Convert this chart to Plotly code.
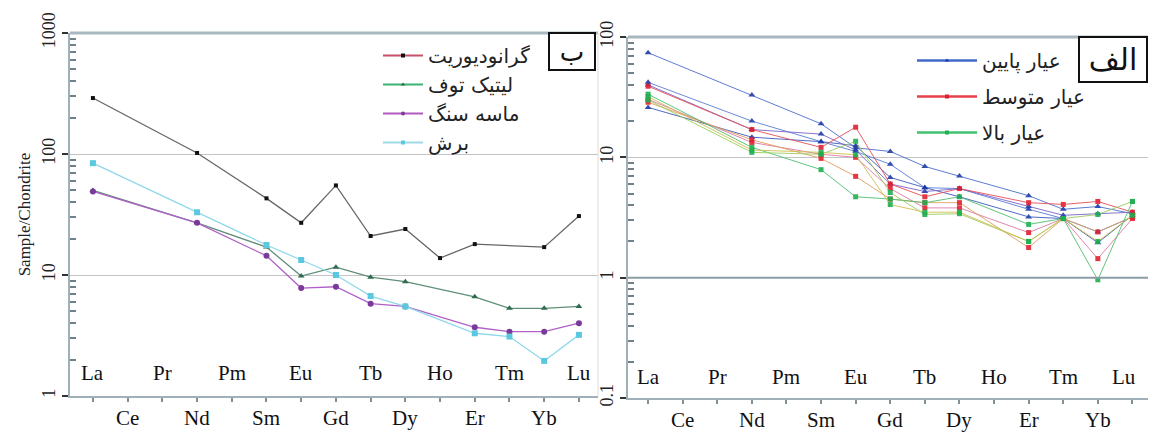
import plotly.graph_objects as go

W, H = 1149, 432

# ---------------- data ----------------
elements = ["La", "Ce", "Pr", "Nd", "Pm", "Sm", "Eu", "Gd", "Tb", "Dy", "Ho", "Er", "Tm", "Yb", "Lu"]
N = None

# left panel (ب)
granodiorite = [290, N, N, 102, N, 43, 27, 55, 21, 24, 13.8, 18, N, 17, 30.7]
lithic_tuff  = [50, N, N, 27, N, 17, 9.8, 11.6, 9.6, 8.8, N, 6.6, 5.3, 5.3, 5.5]
sandstone    = [49, N, N, 27, N, 14.4, 7.8, 8.0, 5.8, 5.5, N, 3.7, 3.4, 3.4, 4.0]
breccia      = [84, N, N, 33, N, 17.7, 13.3, 10.0, 6.7, 5.5, N, 3.3, 3.1, 1.95, 3.2]

left_names = ["گرانودیوریت", "لیتیک توف", "ماسه سنگ", "برش"]

# right panel (الف)
low_grade = [
    [74, N, N, 33, N, 19, 12.0, 11.2, 8.4, 7.0, N, 4.8, 3.7, 3.9, 3.4],
    [42, N, N, 20, N, 13.5, 11.2, 8.75, 5.6, 5.5, N, 3.7, 3.1, 2.4, 3.2],
    [26, N, N, 14.7, N, 13.5, 12.5, 6.8, 5.6, 4.7, N, 3.2, 3.1, 1.95, 3.3],
    [40, N, N, 17, N, 15.6, 11.5, 6.0, 5.2, 5.5, N, 3.9, 3.3, 3.4, 3.5],
]
mid_grade = [
    [39, N, N, 17, N, 12.1, 17.8, 6.0, 4.7, 5.5, N, 4.2, 4.06, 4.3, 3.5],
    [30.4, N, N, 13.3, N, 10.6, 10.0, 5.5, 3.8, 3.8, N, 2.37, 3.1, 1.44, 3.1],
    [28.7, N, N, 14, N, 9.8, 6.95, 4.5, 4.2, 4.2, N, 1.78, 3.1, 2.4, 3.2],
]
high_grade = [
    [33.5, N, N, 12.1, N, 7.9, 4.7, 4.5, 4.2, 4.7, N, 2.77, 3.1, 0.96, 4.3],
    [30, N, N, 11, N, 10.6, 13.6, 5.1, 3.35, 3.4, N, 2.0, 3.1, 3.35, 4.3],
    [32, N, N, 11.5, N, 11, 10.5, 4.05, 3.5, 3.5, N, 2.0, 3.1, 2.0, 3.3],
]
right_names = ["عیار پایین", "عیار متوسط", "عیار بالا"]

# ---------------- layout helpers ----------------
def px_x(p):
    return p / W

def px_y(p):
    return 1 - p / H

idx = list(range(len(elements)))
fig = go.Figure()

# left traces
left_styles = [
    (granodiorite, "#666666", "#111111", "square", 4, "#c8506a"),
    (lithic_tuff, "#5f8f78", "#2f6b4f", "triangle-up", 6, "#3cb371"),
    (sandstone, "#b060c8", "#7a3a9a", "circle", 6, "#b05cc0"),
    (breccia, "#8fd8ea", "#5cc8e0", "square", 6, "#9fd9e8"),
]
for k, ((vals, lc, mc, sym, ms, legc), name) in enumerate(zip(left_styles, left_names)):
    fig.add_trace(go.Scatter(
        x=idx, y=vals, mode="lines+markers", connectgaps=True,
        line=dict(color=lc, width=1.3), marker=dict(color=mc, symbol=sym, size=ms),
        xaxis="x", yaxis="y", showlegend=False, hoverinfo="skip"))
    fig.add_trace(go.Scatter(
        x=[None], y=[None], mode="lines+markers", name=name, legendgroup="L%d" % k,
        line=dict(color=legc, width=2), marker=dict(color=mc, symbol=sym, size=4),
        xaxis="x", yaxis="y", legend="legend"))

# right traces
groups = [
    (low_grade, ["#4a6fd0", "#5a7fd8", "#3d5cc0", "#7a66c8"], "#1f3aa8", "triangle-up", 6, "#4169c8"),
    (mid_grade, ["#e8505a", "#e07aa8", "#e0a060"], "#e02030", "square", 5, "#e8404a"),
    (high_grade, ["#50c070", "#9ccf60", "#d0c050"], "#20b050", "square", 5, "#40c070"),
]
for k, ((samples, lcs, mc, sym, ms, legc), name) in enumerate(zip(groups, right_names)):
    for s, lc in zip(samples, lcs):
        fig.add_trace(go.Scatter(
            x=idx, y=s, mode="lines+markers", connectgaps=True,
            line=dict(color=lc, width=1), marker=dict(color=mc, symbol=sym, size=ms),
            xaxis="x2", yaxis="y2", showlegend=False, hoverinfo="skip", opacity=0.9))
    fig.add_trace(go.Scatter(
        x=[None], y=[None], mode="lines+markers", name=name, legendgroup="R%d" % k,
        line=dict(color=legc, width=2.5), marker=dict(color=mc, symbol=sym, size=4),
        xaxis="x2", yaxis="y2", legend="legend2"))

axis_col = "#9fb0b8"
serif = "Liberation Serif"

def minor_vals(k0, k1):
    return [m * 10 ** k for k in range(k0, k1) for m in range(2, 10)]

xcommon = dict(tickmode="array", tickvals=idx, showticklabels=False, ticks="outside",
               ticklen=4, tickwidth=1.5, tickcolor="#7f9099", showline=True, linecolor=axis_col,
               linewidth=2, showgrid=False, zeroline=False, automargin=False)
ycommon = dict(type="log", showgrid=True, gridcolor="#c4c4c4", gridwidth=1.2,
               tickmode="linear", tick0=0, dtick=1, exponentformat="none",
               tickangle=-90, tickfont=dict(family=serif, size=18, color="#222"),
               showline=True, linecolor=axis_col, linewidth=2, ticks="outside",
               ticklen=6, tickwidth=1.5, tickcolor="#333", zeroline=False, automargin=False)
minorcommon = dict(type="log", tickmode="array", showticklabels=False, ticks="inside",
                   ticklen=6, tickwidth=1.5, tickcolor="#6f8088", showgrid=False,
                   showline=False, zeroline=False, automargin=False, side="left")

fig.update_layout(
    width=W, height=H, margin=dict(l=0, r=0, t=0, b=0, autoexpand=False),
    paper_bgcolor="white", plot_bgcolor="white",
    xaxis=dict(domain=[px_x(70), px_x(598)], range=[-0.66, 14.55], anchor="y", **xcommon),
    xaxis2=dict(domain=[px_x(628), px_x(1148)], range=[-0.58, 14.45], anchor="y2", **xcommon),
    yaxis=dict(domain=[px_y(396), px_y(33)], range=[0, 3], anchor="x",
               title=dict(text="Sample/Chondrite", font=dict(family=serif, size=17, color="#222"),
                          standoff=4),
               **ycommon),
    yaxis2=dict(domain=[px_y(398), px_y(37)], range=[-1, 2], anchor="x2", **ycommon),
    yaxis3=dict(overlaying="y", anchor="x", range=[0, 3], tickvals=minor_vals(0, 3), **minorcommon),
    yaxis4=dict(overlaying="y2", anchor="x2", range=[-1, 2], tickvals=minor_vals(-1, 2), **minorcommon),
    legend=dict(x=px_x(378), y=px_y(36), xanchor="left", yanchor="top",
                font=dict(family="DejaVu Sans", size=20, color="#222"),
                bgcolor="rgba(0,0,0,0)", tracegroupgap=0, itemwidth=40),
    legend2=dict(x=px_x(912), y=px_y(41), xanchor="left", yanchor="top",
                 font=dict(family="DejaVu Sans", size=20, color="#222"),
                 bgcolor="rgba(0,0,0,0)", tracegroupgap=7, itemwidth=60),
)

# anchor traces (one real point each, drawn transparent) so the minor-tick axes are drawn
fig.add_trace(go.Scatter(x=[0], y=[1], xaxis="x", yaxis="y3", mode="markers",
                         marker=dict(opacity=0), showlegend=False, hoverinfo="skip"))
fig.add_trace(go.Scatter(x=[0], y=[1], xaxis="x2", yaxis="y4", mode="markers",
                         marker=dict(opacity=0), showlegend=False, hoverinfo="skip"))

shapes = [
    dict(type="line", xref="paper", yref="paper", x0=px_x(70), x1=px_x(598), y0=px_y(33), y1=px_y(33),
         line=dict(color="#a9b8c0", width=3)),
    dict(type="line", xref="paper", yref="paper", x0=px_x(628), x1=px_x(1148), y0=px_y(37), y1=px_y(37),
         line=dict(color="#a9b8c0", width=3)),
    dict(type="line", xref="paper", yref="paper", x0=px_x(598), x1=px_x(598), y0=px_y(396), y1=px_y(33),
         line=dict(color="#dddddd", width=1)),
    dict(type="line", xref="x2", yref="y2", x0=-0.58, x1=14.45, y0=1, y1=1,
         line=dict(color="#8a9ca6", width=2)),
]
fig.update_layout(shapes=shapes)

ann = []
# element labels: even indices inside plot, odd indices below axis
for i, el in enumerate(elements):
    if i % 2 == 0:
        yl, yr = px_y(373), px_y(377)
    else:
        yl, yr = px_y(418), px_y(420)
    ann.append(dict(x=i, y=yl, xref="x", yref="paper", text=el, showarrow=False,
                    xanchor="center", yanchor="middle",
                    font=dict(family=serif, size=21, color="#111")))
    ann.append(dict(x=i, y=yr, xref="x2", yref="paper", text=el, showarrow=False,
                    xanchor="center", yanchor="middle",
                    xshift=-8 if i == len(elements) - 1 else 0,
                    font=dict(family=serif, size=21, color="#111")))
# panel letters
ann.append(dict(x=px_x(572), y=px_y(52), xref="paper", yref="paper", text="ب", showarrow=False,
                xanchor="center", yanchor="middle",
                font=dict(family="DejaVu Sans", size=26, color="#111"),
                bordercolor="#111", borderwidth=2, borderpad=2, bgcolor="white", width=40, height=31))
ann.append(dict(x=px_x(1113), y=px_y(60), xref="paper", yref="paper", text="الف", showarrow=False,
                xanchor="center", yanchor="middle",
                font=dict(family="DejaVu Sans", size=30, color="#111"),
                bordercolor="#111", borderwidth=2, borderpad=2, bgcolor="white", width=62, height=39))
fig.update_layout(annotations=ann)

fig.write_html("out.html", config={"displayModeBar": False},
               post_script="document.body.style.margin='0';")
